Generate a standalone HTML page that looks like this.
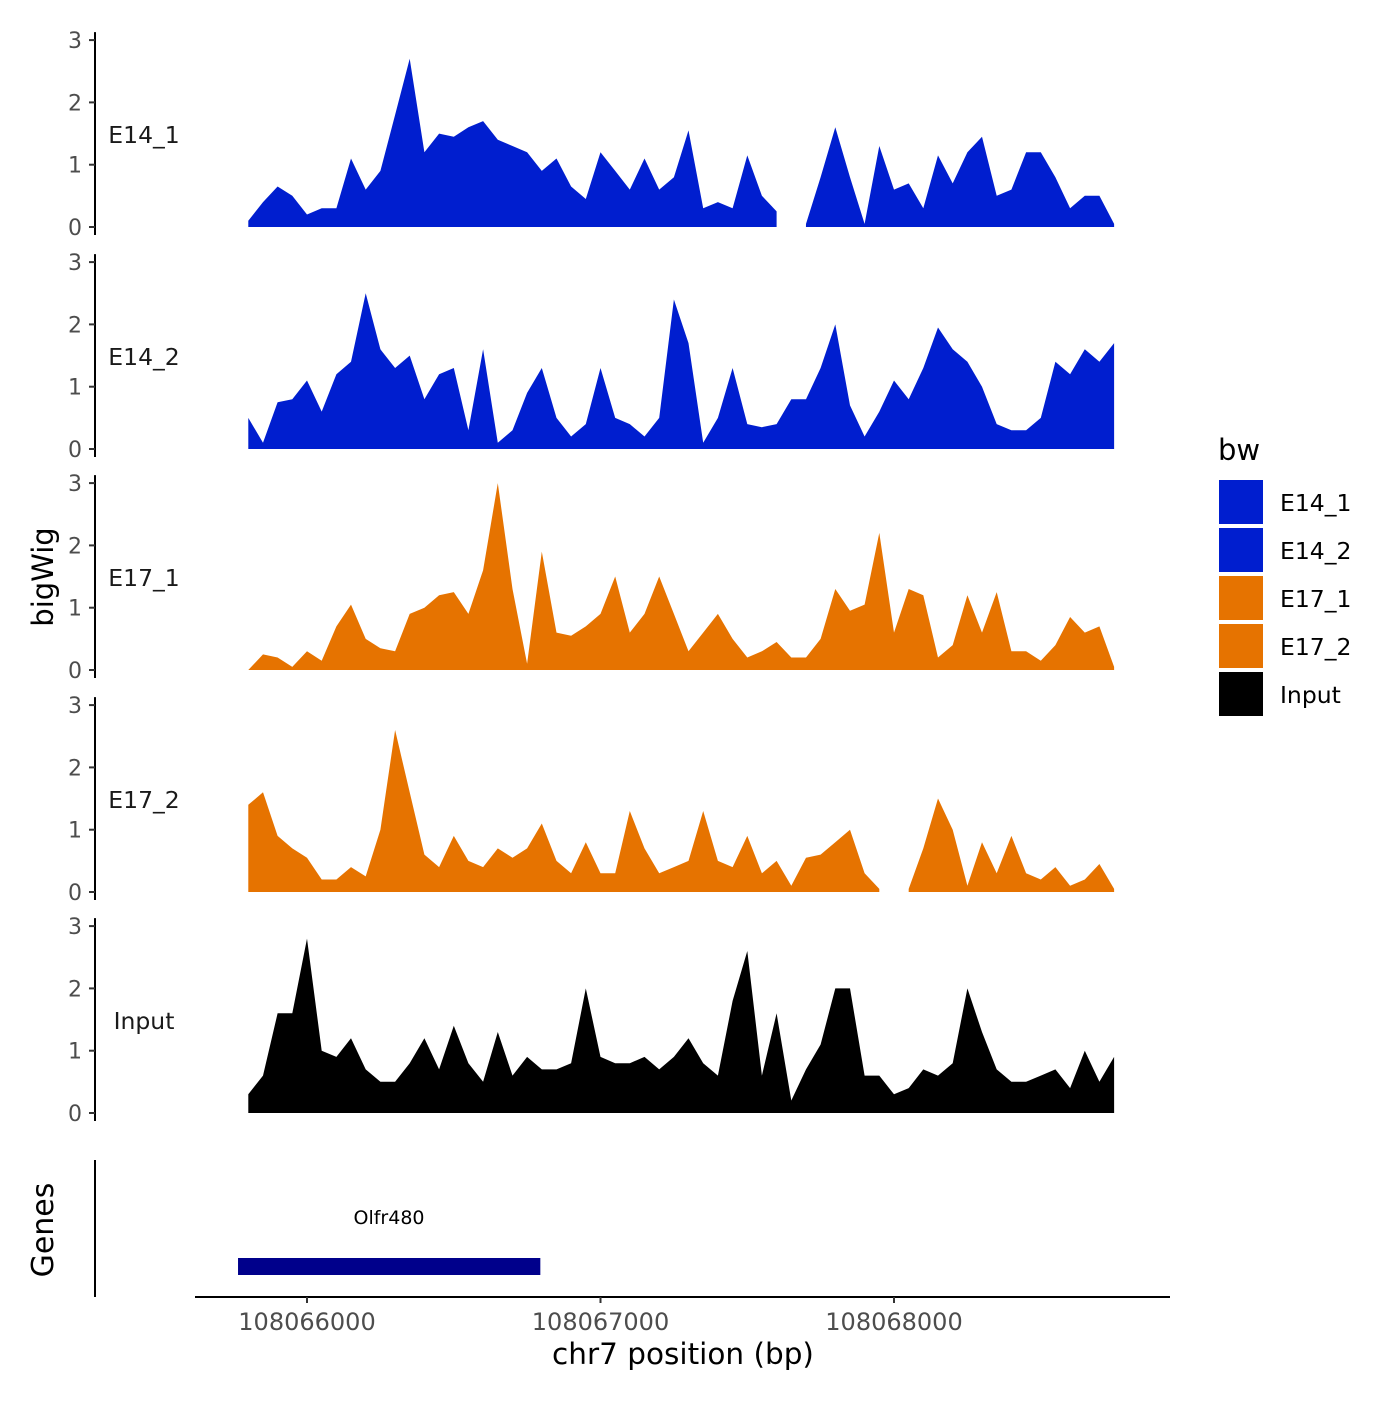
<!DOCTYPE html>
<html><head><meta charset="utf-8"><style>
body{margin:0;background:#fff}
svg text{font-family:"DejaVu Sans","Liberation Sans",sans-serif}
</style></head><body>
<svg id="chart" width="1400" height="1400" xmlns="http://www.w3.org/2000/svg"></svg>
<script>
const positions = [];
for (let i = 0; i < 60; i++) positions.push(108065800 + i * 50);
const trackNames = ["E14_1","E14_2","E17_1","E17_2","Input"];
const e14_1 = [0.1,0.4,0.65,0.5,0.2,0.3,0.3,1.1,0.6,0.9,1.8,2.7,1.2,1.5,1.45,1.6,1.7,1.4,1.3,1.2,0.9,1.1,0.65,0.45,1.2,0.9,0.6,1.1,0.6,0.8,1.55,0.3,0.4,0.3,1.15,0.5,0.25,null,0.05,0.8,1.6,0.8,0.05,1.3,0.6,0.7,0.3,1.15,0.7,1.2,1.45,0.5,0.6,1.2,1.2,0.8,0.3,0.5,0.5,0.05];
const e14_2 = [0.5,0.1,0.75,0.8,1.1,0.6,1.2,1.4,2.5,1.6,1.3,1.5,0.8,1.2,1.3,0.3,1.6,0.1,0.3,0.9,1.3,0.5,0.2,0.4,1.3,0.5,0.4,0.2,0.5,2.4,1.7,0.1,0.5,1.3,0.4,0.35,0.4,0.8,0.8,1.3,2.0,0.7,0.2,0.6,1.1,0.8,1.3,1.95,1.6,1.4,1.0,0.4,0.3,0.3,0.5,1.4,1.2,1.6,1.4,1.7];
const e17_1 = [0,0.25,0.2,0.05,0.3,0.15,0.7,1.05,0.5,0.35,0.3,0.9,1.0,1.2,1.25,0.9,1.6,3.0,1.3,0.1,1.9,0.6,0.55,0.7,0.9,1.5,0.6,0.9,1.5,0.9,0.3,0.6,0.9,0.5,0.2,0.3,0.45,0.2,0.2,0.5,1.3,0.95,1.05,2.2,0.6,1.3,1.2,0.2,0.4,1.2,0.6,1.25,0.3,0.3,0.15,0.4,0.85,0.6,0.7,0.05];
const e17_2 = [1.4,1.6,0.9,0.7,0.55,0.2,0.2,0.4,0.25,1.0,2.6,1.6,0.6,0.4,0.9,0.5,0.4,0.7,0.55,0.7,1.1,0.5,0.3,0.8,0.3,0.3,1.3,0.7,0.3,0.4,0.5,1.3,0.5,0.4,0.9,0.3,0.5,0.1,0.55,0.6,0.8,1.0,0.3,0.05,null,0.05,0.7,1.5,1.0,0.1,0.8,0.3,0.9,0.3,0.2,0.4,0.1,0.2,0.45,0.05];
const input = [0.3,0.6,1.6,1.6,2.8,1.0,0.9,1.2,0.7,0.5,0.5,0.8,1.2,0.7,1.4,0.8,0.5,1.3,0.6,0.9,0.7,0.7,0.8,2.0,0.9,0.8,0.8,0.9,0.7,0.9,1.2,0.8,0.6,1.8,2.6,0.6,1.6,0.2,0.7,1.1,2.0,2.0,0.6,0.6,0.3,0.4,0.7,0.6,0.8,2.0,1.3,0.7,0.5,0.5,0.6,0.7,0.4,1.0,0.5,0.9];
const series = [e14_1,e14_2,e17_1,e17_2,input];
const colors = ["#001ECF","#001ECF","#E67300","#E67300","#000000"];
const yTicks = [0,1,2,3];
const xTicks = [108066000,108067000,108068000];
const gene = {name:"Olfr480", start:108065765, end:108066795};

const NS="http://www.w3.org/2000/svg";
const svg=document.getElementById('chart');
function el(tag,attrs,parent){const e=document.createElementNS(NS,tag);for(const k in attrs)e.setAttribute(k,attrs[k]);(parent||svg).appendChild(e);return e;}
const xs = bp => 307 + (bp-108066000)*0.2935;
const trackBase = [227,449,670,892,1113];
const yScale = (t,v) => trackBase[t] - v*62.3;

series.forEach((vals,t)=>{
  const g=el('g',{});
  
  
  let seg=[];
  const segs=[];
  vals.forEach((v,i)=>{ if(v===null){ if(seg.length) segs.push(seg); seg=[]; } else seg.push([positions[i],v]); });
  if(seg.length) segs.push(seg);
  segs.forEach(s=>{
    let d='M'+xs(s[0][0])+','+yScale(t,0);
    s.forEach(p=>{ d+=' L'+xs(p[0]).toFixed(1)+','+yScale(t,p[1]).toFixed(1); });
    d+=' L'+xs(s[s.length-1][0])+','+yScale(t,0)+' Z';
    const p=el('path',{d:d,fill:colors[t]},g);
    
    
  });
  const ax=el('line',{x1:95,x2:95,y1:yScale(t,3)-8,y2:trackBase[t]+8,stroke:'#000','stroke-width':2},g);
  
  
  yTicks.forEach(v=>{
    const y=yScale(t,v);
    el('line',{x1:89,x2:95,y1:y,y2:y,stroke:'#333','stroke-width':2},g);
    const tx=el('text',{x:82,y:y+8,'text-anchor':'end','font-size':22,fill:'#4d4d4d'},g);
    tx.textContent=v;
    
    
  });
  const lb=el('text',{x:144,y:trackBase[t]-84,'text-anchor':'middle','font-size':23.5,fill:'#1a1a1a'},g);
  lb.textContent=trackNames[t];
  
  
});

const yt=el('text',{x:0,y:0,transform:'translate(53,577) rotate(-90)','text-anchor':'middle','font-size':29,fill:'#000'});
yt.textContent='bigWig';



el('line',{x1:95,x2:95,y1:1160,y2:1297,stroke:'#000','stroke-width':2});
const gt=el('text',{x:0,y:0,transform:'translate(53,1230) rotate(-90)','text-anchor':'middle','font-size':30,fill:'#000'});
gt.textContent='Genes';


const gb=el('rect',{x:xs(gene.start),y:1258,width:xs(gene.end)-xs(gene.start),height:17,fill:'#00008B'});


const gl=el('text',{x:389,y:1224,'text-anchor':'middle','font-size':19,fill:'#000'});
gl.textContent=gene.name;



el('line',{x1:195,x2:1170,y1:1297,y2:1297,stroke:'#000','stroke-width':2});
xTicks.forEach(b=>{
  const x=xs(b);
  el('line',{x1:x,x2:x,y1:1297,y2:1303,stroke:'#333','stroke-width':2});
  const tx=el('text',{x:x,y:1330,'text-anchor':'middle','font-size':24,fill:'#4d4d4d'});
  tx.textContent=b;
  
  
});
const xt=el('text',{x:683,y:1364,'text-anchor':'middle','font-size':29.5,fill:'#000'});
xt.textContent='chr7 position (bp)';



const lt=el('text',{x:1218,y:460,'font-size':29,fill:'#000'});
lt.textContent='bw';


trackNames.forEach((n,i)=>{
  const y=480+i*48;
  const r=el('rect',{x:1219,y:y,width:44,height:44,fill:colors[i]});
  
  
  const tx=el('text',{x:1280,y:y+31,'font-size':23.5,fill:'#000'});
  tx.textContent=n;
  
  
});
</script>
</body></html>
